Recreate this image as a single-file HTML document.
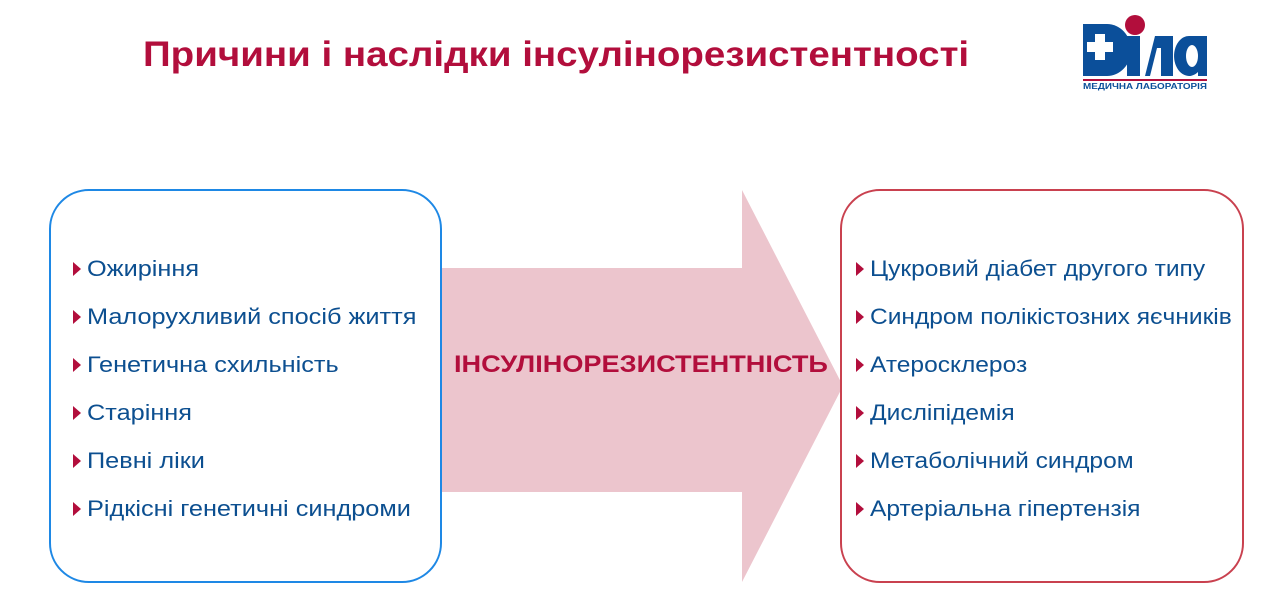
<!DOCTYPE html>
<html><head><meta charset="utf-8"><style>
body{margin:0;width:1281px;height:602px;background:#fff;position:relative;overflow:hidden;font-family:"Liberation Sans","DejaVu Sans",sans-serif}
.t{position:absolute;left:143px;top:35px;font-size:35px;font-weight:bold;color:#b20e3c;white-space:nowrap;transform:scaleX(1.1);transform-origin:left}
.box{position:absolute;top:189px;height:390px;border-radius:40px;background:#fff}
.li{position:absolute;font-size:22px;color:#0c4f90;white-space:nowrap;line-height:26px}
.li span{display:inline-block;transform:scaleX(1.15);transform-origin:left}
.r span{transform:scaleX(1.115)}
.li:before{content:"";position:absolute;left:-14px;top:6px;border-left:8px solid #b20e3c;border-top:7px solid transparent;border-bottom:7px solid transparent}
</style></head><body>
<div class="t">Причини і наслідки інсулінорезистентності</div>
<svg style="position:absolute;left:0;top:0" width="1281" height="602">
<polygon points="442,268 742,268 742,190 843,386 742,582 742,492 442,492" fill="#ecc5cd"/>
<path d="M1083,24 h24 a24,26 0 0 1 0,52 h-24 z" fill="#0b4f9a"/>
<rect x="1087" y="42" width="26" height="10" fill="#fff"/>
<rect x="1095" y="34" width="10" height="26" fill="#fff"/>
<rect x="1127" y="36" width="13" height="40" fill="#0b4f9a"/>
<circle cx="1135" cy="25" r="10" fill="#b20e3c"/>
<path d="M1145,76 l10,-40 h18 v40 h-12 v-28 h-4 l-7,28 z" fill="#0b4f9a"/>
<path d="M1190,36 a15,20 0 1 0 8,36 v4 h9 v-40 z" fill="#0b4f9a"/>
<ellipse cx="1192" cy="56" rx="6" ry="11" fill="#fff"/>
<rect x="1083" y="79" width="124" height="2" fill="#b20e3c"/>
<text x="1083" y="89" font-family="Liberation Sans" font-weight="bold" font-size="8" fill="#0b4f9a" textLength="124" lengthAdjust="spacingAndGlyphs">МЕДИЧНА ЛАБОРАТОРІЯ</text>
</svg>
<div class="box" style="left:49px;width:389px;border:2px solid #1e88e5"></div>
<div class="box" style="left:840px;width:400px;border:2px solid #c9414f"></div>
<div style="position:absolute;left:454px;top:351px;font-size:24px;font-weight:bold;color:#b20e3c;transform:scaleX(1.13);transform-origin:left;white-space:nowrap">ІНСУЛІНОРЕЗИСТЕНТНІСТЬ</div>
<div class="li" style="left:87px;top:256px"><span>Ожиріння</span></div>
<div class="li" style="left:87px;top:304px"><span>Малорухливий спосіб життя</span></div>
<div class="li" style="left:87px;top:352px"><span>Генетична схильність</span></div>
<div class="li" style="left:87px;top:400px"><span>Старіння</span></div>
<div class="li" style="left:87px;top:448px"><span>Певні ліки</span></div>
<div class="li" style="left:87px;top:496px"><span>Рідкісні генетичні синдроми</span></div>
<div class="li r" style="left:870px;top:256px"><span>Цукровий діабет другого типу</span></div>
<div class="li r" style="left:870px;top:304px"><span>Синдром полікістозних яєчників</span></div>
<div class="li r" style="left:870px;top:352px"><span>Атеросклероз</span></div>
<div class="li r" style="left:870px;top:400px"><span>Дисліпідемія</span></div>
<div class="li r" style="left:870px;top:448px"><span>Метаболічний синдром</span></div>
<div class="li r" style="left:870px;top:496px"><span>Артеріальна гіпертензія</span></div>
</body></html>
